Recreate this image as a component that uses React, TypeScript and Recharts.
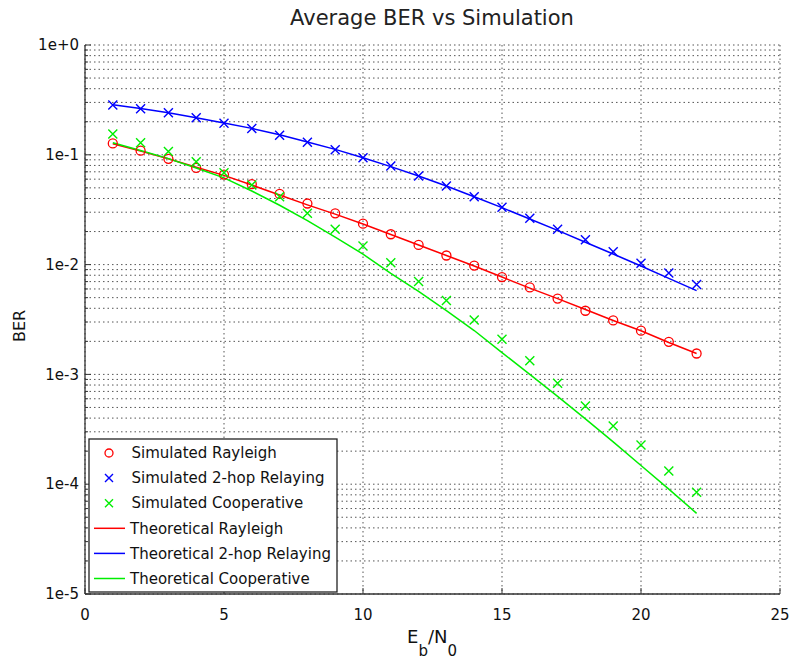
import React from "react";
import {
  ComposedChart,
  Line,
  XAxis,
  YAxis,
  CartesianGrid,
} from "recharts";

const FONT = "'DejaVu Sans', sans-serif";

const EBN0 = [1, 2, 3, 4, 5, 6, 7, 8, 9, 10, 11, 12, 13, 14, 15, 16, 17, 18, 19, 20, 21, 22];

// simulated points (markers)
const simRayleigh = [0.127, 0.109, 0.092, 0.076, 0.066, 0.054, 0.044, 0.036, 0.0293, 0.0236, 0.0189, 0.0151, 0.0121, 0.0098, 0.0077, 0.0062, 0.0049, 0.0038, 0.0031, 0.0025, 0.00198, 0.00155];
const simRelay = [0.284, 0.263, 0.242, 0.218, 0.194, 0.174, 0.151, 0.13, 0.111, 0.094, 0.079, 0.064, 0.052, 0.0415, 0.0333, 0.0264, 0.021, 0.0168, 0.0131, 0.0103, 0.0084, 0.0066];
const simCoop = [0.155, 0.129, 0.107, 0.0865, 0.0687, 0.053, 0.0415, 0.0293, 0.021, 0.0148, 0.0104, 0.007, 0.0047, 0.00313, 0.00209, 0.00133, 0.00083, 0.000515, 0.000339, 0.000228, 0.000132, 0.0000843];

// theoretical curves
const theoRayleigh = [0.126, 0.108, 0.092, 0.077, 0.065, 0.053, 0.043, 0.035, 0.0288, 0.0234, 0.0188, 0.0151, 0.0121, 0.0097, 0.0077, 0.0061, 0.0049, 0.0039, 0.0031, 0.0025, 0.00195, 0.00155];
const theoRelay = [0.286, 0.264, 0.242, 0.218, 0.195, 0.174, 0.152, 0.131, 0.112, 0.094, 0.078, 0.064, 0.052, 0.0415, 0.033, 0.026, 0.0205, 0.016, 0.0125, 0.0097, 0.0075, 0.0058];
const theoCoop = [0.1288, 0.1096, 0.0923, 0.0759, 0.0617, 0.0468, 0.0347, 0.0251, 0.0178, 0.01245, 0.00832, 0.00569, 0.0038, 0.00251, 0.00158, 0.001, 0.00063, 0.000394, 0.000243, 0.000148, 0.0000902, 0.0000543];

const X_TICKS = [0, 5, 10, 15, 20, 25];
const Y_MAJOR = [1e-5, 1e-4, 1e-3, 1e-2, 1e-1, 1];
const Y_LABELS = ["1e-5", "1e-4", "1e-3", "1e-2", "1e-1", "1e+0"];

// minor + major tick values for the log axis
const Y_TICKS: number[] = [];
Y_MAJOR.slice(0, -1).forEach((d) => {
  for (let m = 1; m < 10; m++) Y_TICKS.push(Number((m * d).toPrecision(3)));
});
Y_TICKS.push(1);

const data = EBN0.map((x, i) => ({
  x,
  simRayleigh: simRayleigh[i],
  simRelay: simRelay[i],
  simCoop: simCoop[i],
  theoRayleigh: theoRayleigh[i],
  theoRelay: theoRelay[i],
  theoCoop: theoCoop[i],
}));

const RED = "#ff0000";
const BLUE = "#0000ff";
const GREEN = "#00ee00";
const AXIS = "#333";

const majorLabel = (v: number) => {
  const idx = Y_MAJOR.findIndex((m) => Math.abs(m - v) / m < 1e-6);
  return idx >= 0 ? Y_LABELS[idx] : null;
};

const LeftTick = (props: any) => {
  const { x, y, payload } = props;
  const label = majorLabel(payload.value);
  return (
    <g>
      <line x1={x} x2={x + (label ? 6 : 3)} y1={y} y2={y} stroke={AXIS} />
      {label && (
        <text x={x - 6} y={y} dy="0.35em" textAnchor="end" fontSize={15} fontFamily={FONT} fill="#111">
          {label}
        </text>
      )}
    </g>
  );
};

const RightTick = (props: any) => {
  const { x, y, payload } = props;
  const label = majorLabel(payload.value);
  return <line x1={x} x2={x - (label ? 6 : 3)} y1={y} y2={y} stroke={AXIS} />;
};

const BottomTick = (props: any) => {
  const { x, y, payload } = props;
  return (
    <g>
      <line x1={x} x2={x} y1={y} y2={y - 6} stroke={AXIS} />
      <text x={x} y={y + 26} textAnchor="middle" fontSize={15} fontFamily={FONT} fill="#111">
        {payload.value}
      </text>
    </g>
  );
};

const TopTick = (props: any) => {
  const { x, y } = props;
  return <line x1={x} x2={x} y1={y} y2={y + 6} stroke={AXIS} />;
};

const Circle = (props: any) => {
  const { cx, cy } = props;
  if (cx == null || cy == null) return null;
  return <circle cx={cx} cy={cy} r={4.5} fill="none" stroke={RED} strokeWidth={1.3} />;
};

const makeCross = (color: string) => (props: any) => {
  const { cx, cy } = props;
  if (cx == null || cy == null) return null;
  const s = 4.5;
  return (
    <path
      d={`M${cx - s},${cy - s}L${cx + s},${cy + s}M${cx - s},${cy + s}L${cx + s},${cy - s}`}
      stroke={color}
      strokeWidth={1.4}
      fill="none"
    />
  );
};

const BlueCross = makeCross(BLUE);
const GreenCross = makeCross(GREEN);

const legendItems = [
  { label: "Simulated Rayleigh", color: RED, kind: "circle" },
  { label: "Simulated 2-hop Relaying", color: BLUE, kind: "cross" },
  { label: "Simulated Cooperative", color: GREEN, kind: "cross" },
  { label: "Theoretical Rayleigh", color: RED, kind: "line" },
  { label: "Theoretical 2-hop Relaying", color: BLUE, kind: "line" },
  { label: "Theoretical Cooperative", color: GREEN, kind: "line" },
];

const LegendBox = () => (
  <svg
    width={250}
    height={155}
    style={{ position: "absolute", left: 88, top: 438 }}
  >
    <rect x={1} y={1} width={248} height={153} fill="#fff" stroke="#222" strokeWidth={1.3} />
    {legendItems.map((it, i) => {
      const cy = 15 + i * 25.1;
      return (
        <g key={it.label}>
          {it.kind === "circle" && (
            <circle cx={21} cy={cy} r={4} fill="none" stroke={it.color} strokeWidth={1.3} />
          )}
          {it.kind === "cross" && (
            <path
              d={`M17,${cy - 4}L25,${cy + 4}M17,${cy + 4}L25,${cy - 4}`}
              stroke={it.color}
              strokeWidth={1.4}
            />
          )}
          {it.kind === "line" && (
            <line x1={6} x2={37} y1={cy} y2={cy} stroke={it.color} strokeWidth={1.5} />
          )}
          <text
            x={it.kind === "line" ? 42 : 43.5}
            y={cy}
            dy="0.35em"
            fontSize={15}
            fontFamily={FONT}
            fill="#111"
          >
            {it.label}
          </text>
        </g>
      );
    })}
  </svg>
);

export default function App() {
  return (
    <div style={{ position: "absolute", left: 0, top: 0, width: 794, height: 664, background: "#fff" }}>
      <ComposedChart
        width={794}
        height={664}
        data={data}
        margin={{ top: 45, right: 14, left: 0, bottom: 0 }}
      >
        <CartesianGrid
          xAxisId="bottom"
          yAxisId="left"
          stroke="#555"
          strokeDasharray="1.5 3"
        />
        <XAxis
          xAxisId="bottom"
          dataKey="x"
          type="number"
          domain={[0, 25]}
          ticks={X_TICKS}
          interval={0}
          height={70}
          tickSize={0}
          tickMargin={0}
          tick={<BottomTick />}
          axisLine={{ stroke: AXIS, strokeWidth: 1.3 }}
        />
        <XAxis
          xAxisId="top"
          orientation="top"
          dataKey="x"
          type="number"
          domain={[0, 25]}
          ticks={X_TICKS}
          interval={0}
          height={0}
          tickSize={0}
          tickMargin={0}
          tick={<TopTick />}
          axisLine={{ stroke: AXIS, strokeWidth: 1.3 }}
        />
        <YAxis
          yAxisId="left"
          scale="log"
          domain={[1e-5, 1]}
          ticks={Y_TICKS}
          interval={0}
          allowDataOverflow
          width={85}
          tickSize={0}
          tickMargin={0}
          tick={<LeftTick />}
          axisLine={{ stroke: AXIS, strokeWidth: 1.3 }}
        />
        <YAxis
          yAxisId="right"
          orientation="right"
          scale="log"
          domain={[1e-5, 1]}
          ticks={Y_TICKS}
          interval={0}
          allowDataOverflow
          width={0}
          tickSize={0}
          tickMargin={0}
          tick={<RightTick />}
          axisLine={{ stroke: AXIS, strokeWidth: 1.3 }}
        />

        <Line xAxisId="bottom" yAxisId="left" dataKey="theoRayleigh" stroke={RED} strokeWidth={1.5} dot={false} isAnimationActive={false} />
        <Line xAxisId="bottom" yAxisId="left" dataKey="theoRelay" stroke={BLUE} strokeWidth={1.5} dot={false} isAnimationActive={false} />
        <Line xAxisId="bottom" yAxisId="left" dataKey="theoCoop" stroke={GREEN} strokeWidth={1.5} dot={false} isAnimationActive={false} />

        <Line xAxisId="bottom" yAxisId="left" dataKey="simRayleigh" stroke="none" dot={<Circle />} activeDot={false} isAnimationActive={false} />
        <Line xAxisId="bottom" yAxisId="left" dataKey="simRelay" stroke="none" dot={<BlueCross />} activeDot={false} isAnimationActive={false} />
        <Line xAxisId="bottom" yAxisId="left" dataKey="simCoop" stroke="none" dot={<GreenCross />} activeDot={false} isAnimationActive={false} />

        <text x={432} y={25} textAnchor="middle" fontSize={21} fontFamily={FONT} fill="#222">
          Average BER vs Simulation
        </text>
        <text x={432} y={643} textAnchor="middle" fontSize={18} fontFamily={FONT} fill="#111">
          E<tspan dy={13} fontSize={15}>b</tspan>
          <tspan dy={-13}>/N</tspan>
          <tspan dy={13} fontSize={15}>0</tspan>
        </text>
        <text
          x={0}
          y={0}
          transform="translate(25,326) rotate(-90)"
          textAnchor="middle"
          fontSize={16}
          fontFamily={FONT}
          fill="#111"
        >
          BER
        </text>
      </ComposedChart>
      <LegendBox />
    </div>
  );
}
